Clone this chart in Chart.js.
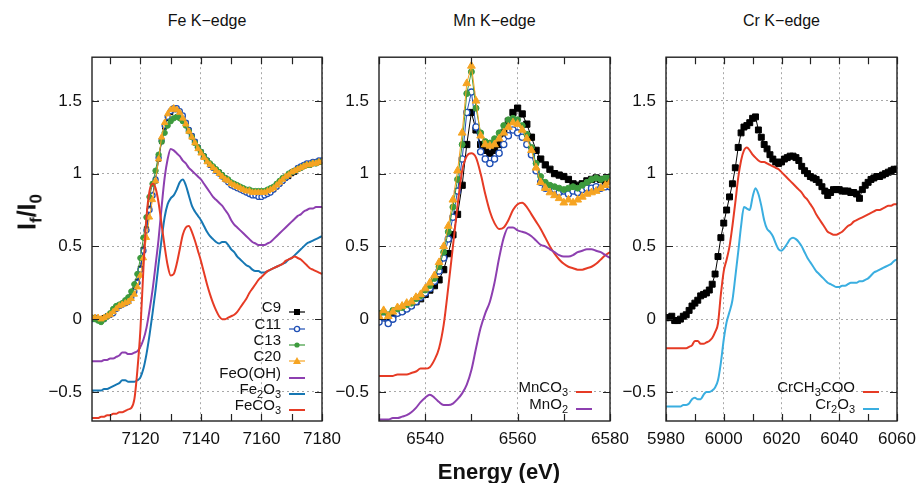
<!DOCTYPE html>
<html>
<head>
<meta charset="utf-8">
<script src="https://cdn.jsdelivr.net/npm/chart.js@4.4.1/dist/chart.umd.min.js"></script>
<style>
body { margin: 0; background: #fff; width: 918px; height: 483px; position: relative; overflow: hidden;
       font-family: "Liberation Sans", Arial, sans-serif; color: #111; }
canvas { position: absolute; }
.title { position: absolute; top: 11px; font-size: 16px; line-height: 20px; text-align: center; white-space: nowrap; }
.legtext { position: absolute; width: 160px; text-align: right; font-size: 15px; line-height: 16px; white-space: nowrap; }
.legtext sub { font-size: 11px; vertical-align: -4px; line-height: 0; }
.legsym { position: absolute; }
#ytitle { position: absolute; left: 27px; top: 212px; transform: translate(-50%, -50%) rotate(-90deg);
          font-weight: bold; font-size: 25px; white-space: nowrap; }
#ytitle sub { font-size: 17px; vertical-align: -6px; line-height: 0; }
#xtitle { position: absolute; left: 0; width: 998px; top: 459px; text-align: center; font-weight: bold; font-size: 22px; line-height: 26px; }
</style>
</head>
<body>
<canvas id="feChart"></canvas>
<canvas id="mnChart"></canvas>
<canvas id="crChart"></canvas>
<div id="ytitle">I<sub>f</sub>/I<sub>0</sub></div>
<div id="xtitle">Energy (eV)</div>
<script>
// ---- data (normalised fluorescence If/I0 vs energy, 1 eV steps) ----
const yTicks = [-0.5, 0, 0.5, 1, 1.5];
const feXTicks = [7120, 7140, 7160, 7180];
const mnXTicks = [6540, 6560, 6580];
const crXTicks = [5980, 6000, 6020, 6040, 6060];

function range(a, b) { const r = []; for (let e = a; e <= b; e++) r.push(e); return r; }
const feEnergy = range(7104, 7180);
const mnEnergy = range(6530, 6580);
const crEnergy = range(5980, 6060);

// Fe K-edge
const feC9 = [
  0.01, 0.01, 0.00, 0.00, 0.01, 0.02, 0.03, 0.05, 0.08, 0.09,
  0.10, 0.11, 0.13, 0.16, 0.20, 0.26, 0.35, 0.48, 0.62, 0.76,
  0.85, 0.95, 1.10, 1.22, 1.32, 1.38, 1.42, 1.44, 1.44, 1.42,
  1.39, 1.35, 1.30, 1.26, 1.22, 1.18, 1.15, 1.12, 1.09, 1.06,
  1.04, 1.02, 1.01, 0.99, 0.97, 0.95, 0.93, 0.92, 0.91, 0.90,
  0.89, 0.88, 0.87, 0.87, 0.86, 0.86, 0.86, 0.86, 0.87, 0.88,
  0.89, 0.91, 0.93, 0.95, 0.97, 0.98, 1.00, 1.01, 1.03, 1.04,
  1.05, 1.06, 1.06, 1.07, 1.07, 1.08, 1.08];
const feC11 = [
  0.00, 0.01, 0.00, -0.01, 0.00, 0.02, 0.03, 0.04, 0.07, 0.09,
  0.10, 0.11, 0.12, 0.15, 0.19, 0.25, 0.34, 0.47, 0.61, 0.75,
  0.85, 0.96, 1.11, 1.23, 1.33, 1.39, 1.43, 1.45, 1.45, 1.43,
  1.40, 1.35, 1.30, 1.26, 1.22, 1.18, 1.15, 1.12, 1.09, 1.06,
  1.04, 1.02, 1.00, 0.98, 0.96, 0.94, 0.92, 0.91, 0.90, 0.89,
  0.88, 0.87, 0.86, 0.85, 0.85, 0.84, 0.84, 0.85, 0.86, 0.87,
  0.89, 0.91, 0.93, 0.95, 0.97, 0.99, 1.01, 1.02, 1.04, 1.05,
  1.06, 1.07, 1.07, 1.08, 1.08, 1.09, 1.09];
const feC13 = [
  0.01, 0.00, -0.01, -0.02, 0.00, 0.02, 0.04, 0.07, 0.09, 0.10,
  0.11, 0.13, 0.15, 0.19, 0.24, 0.31, 0.42, 0.56, 0.70, 0.84,
  0.93, 1.02, 1.13, 1.22, 1.28, 1.33, 1.36, 1.38, 1.39, 1.38,
  1.36, 1.33, 1.29, 1.25, 1.21, 1.18, 1.15, 1.12, 1.09, 1.07,
  1.05, 1.03, 1.01, 0.99, 0.97, 0.96, 0.94, 0.93, 0.92, 0.91,
  0.90, 0.89, 0.89, 0.88, 0.88, 0.88, 0.88, 0.88, 0.89, 0.90,
  0.91, 0.93, 0.95, 0.97, 0.98, 1.00, 1.01, 1.02, 1.03, 1.04,
  1.05, 1.06, 1.06, 1.07, 1.07, 1.08, 1.08];
const feC20 = [
  0.01, 0.01, 0.01, 0.00, 0.01, 0.02, 0.03, 0.05, 0.07, 0.09,
  0.10, 0.11, 0.12, 0.14, 0.17, 0.22, 0.30, 0.42, 0.56, 0.70,
  0.82, 0.95, 1.10, 1.25, 1.35, 1.41, 1.44, 1.45, 1.44, 1.42,
  1.38, 1.34, 1.29, 1.25, 1.21, 1.17, 1.14, 1.11, 1.08, 1.06,
  1.04, 1.02, 1.00, 0.98, 0.96, 0.95, 0.93, 0.92, 0.91, 0.90,
  0.89, 0.88, 0.88, 0.87, 0.87, 0.87, 0.87, 0.87, 0.88, 0.89,
  0.90, 0.92, 0.94, 0.96, 0.98, 0.99, 1.01, 1.02, 1.03, 1.04,
  1.05, 1.06, 1.06, 1.07, 1.07, 1.08, 1.08];
const feFeOOH = [
  -0.29, -0.29, -0.29, -0.29, -0.28, -0.28, -0.27, -0.27, -0.26, -0.25,
  -0.23, -0.23, -0.24, -0.24, -0.23, -0.22, -0.19, -0.14, -0.06, 0.06,
  0.20, 0.37, 0.55, 0.77, 0.97, 1.10, 1.17, 1.16, 1.14, 1.12,
  1.09, 1.07, 1.04, 1.02, 1.00, 0.98, 0.96, 0.93, 0.90, 0.87,
  0.84, 0.82, 0.80, 0.78, 0.75, 0.72, 0.68, 0.65, 0.63, 0.61,
  0.59, 0.57, 0.55, 0.53, 0.52, 0.51, 0.51, 0.51, 0.52, 0.53,
  0.55, 0.57, 0.59, 0.61, 0.63, 0.65, 0.67, 0.69, 0.71, 0.72,
  0.74, 0.75, 0.76, 0.76, 0.77, 0.77, 0.77];
const feFe2O3 = [
  -0.49, -0.49, -0.49, -0.49, -0.48, -0.48, -0.47, -0.46, -0.45, -0.44,
  -0.42, -0.42, -0.43, -0.43, -0.43, -0.42, -0.40, -0.34, -0.24, -0.11,
  0.04, 0.20, 0.38, 0.55, 0.70, 0.79, 0.83, 0.85, 0.89, 0.94,
  0.96, 0.92, 0.85, 0.78, 0.74, 0.71, 0.68, 0.64, 0.60, 0.57,
  0.55, 0.53, 0.52, 0.53, 0.53, 0.51, 0.48, 0.46, 0.43, 0.41,
  0.39, 0.37, 0.36, 0.34, 0.33, 0.33, 0.32, 0.32, 0.33, 0.34,
  0.35, 0.36, 0.37, 0.38, 0.39, 0.41, 0.42, 0.44, 0.46, 0.48,
  0.50, 0.52, 0.53, 0.54, 0.55, 0.56, 0.57];
const feFeCO3 = [
  -0.68, -0.68, -0.68, -0.67, -0.67, -0.66, -0.66, -0.65, -0.65, -0.64,
  -0.64, -0.63, -0.62, -0.61, -0.55, -0.35, -0.07, 0.35, 0.70, 0.88,
  0.93, 0.90, 0.80, 0.65, 0.50, 0.37, 0.30, 0.31, 0.38, 0.48,
  0.58, 0.63, 0.64, 0.60, 0.54, 0.47, 0.40, 0.32, 0.24, 0.17,
  0.11, 0.06, 0.02, 0.00, 0.00, 0.01, 0.02, 0.03, 0.05, 0.08,
  0.11, 0.14, 0.18, 0.21, 0.24, 0.27, 0.29, 0.31, 0.33, 0.34,
  0.35, 0.36, 0.37, 0.38, 0.40, 0.41, 0.42, 0.43, 0.42, 0.41,
  0.39, 0.37, 0.35, 0.34, 0.33, 0.32, 0.31];

// Mn K-edge
const mnC9 = [
  0.02, 0.01, 0.00, 0.03, 0.05, 0.06, 0.08, 0.10, 0.12, 0.14,
  0.17, 0.20, 0.23, 0.27, 0.34, 0.45, 0.58, 0.72, 0.92, 1.20,
  1.42, 1.30, 1.20, 1.16, 1.14, 1.16, 1.20, 1.28, 1.36, 1.42,
  1.45, 1.41, 1.34, 1.25, 1.16, 1.10, 1.06, 1.03, 1.00, 0.99,
  0.98, 0.96, 0.93, 0.92, 0.93, 0.95, 0.96, 0.97, 0.96, 0.95,
  0.94];
const mnC11 = [
  -0.02, 0.01, -0.03, 0.00, 0.04, 0.05, 0.07, 0.09, 0.12, 0.15,
  0.18, 0.21, 0.26, 0.33, 0.42, 0.55, 0.70, 0.88, 1.10, 1.42,
  1.56, 1.32, 1.15, 1.10, 1.07, 1.10, 1.14, 1.20, 1.26, 1.30,
  1.28, 1.25, 1.20, 1.13, 1.02, 0.94, 0.90, 0.90, 0.89, 0.87,
  0.88, 0.86, 0.88, 0.87, 0.89, 0.90, 0.90, 0.91, 0.90, 0.91,
  0.91];
const mnC13 = [
  0.04, 0.05, 0.03, 0.06, 0.07, 0.08, 0.10, 0.11, 0.14, 0.16,
  0.20, 0.23, 0.28, 0.36, 0.46, 0.60, 0.77, 0.96, 1.20, 1.55,
  1.70, 1.45, 1.28, 1.22, 1.21, 1.24, 1.28, 1.33, 1.37, 1.38,
  1.37, 1.33, 1.27, 1.18, 1.07, 0.98, 0.94, 0.92, 0.91, 0.90,
  0.89, 0.90, 0.91, 0.90, 0.92, 0.94, 0.96, 0.97, 0.96, 0.97,
  0.98];
const mnC20 = [
  0.02, 0.06, 0.02, 0.05, 0.08, 0.09, 0.11, 0.12, 0.15, 0.17,
  0.21, 0.25, 0.30, 0.39, 0.50, 0.64, 0.82, 1.02, 1.28, 1.62,
  1.74, 1.50, 1.26, 1.20, 1.19, 1.20, 1.24, 1.28, 1.32, 1.35,
  1.34, 1.30, 1.24, 1.16, 1.04, 0.94, 0.90, 0.87, 0.85, 0.83,
  0.80, 0.82, 0.80, 0.82, 0.84, 0.86, 0.87, 0.88, 0.90, 0.92,
  0.94];
const mnMnCO3 = [
  -0.39, -0.39, -0.39, -0.39, -0.38, -0.38, -0.38, -0.37, -0.36, -0.34,
  -0.34, -0.33, -0.28, -0.20, -0.04, 0.22, 0.50, 0.78, 1.02, 1.12,
  1.14, 1.11, 1.00, 0.86, 0.74, 0.66, 0.62, 0.63, 0.68, 0.75,
  0.79, 0.80, 0.77, 0.72, 0.67, 0.62, 0.56, 0.50, 0.45, 0.41,
  0.38, 0.36, 0.35, 0.34, 0.34, 0.35, 0.36, 0.38, 0.41, 0.44,
  0.46];
const mnMnO2 = [
  -0.69, -0.69, -0.69, -0.68, -0.68, -0.67, -0.66, -0.64, -0.61, -0.57,
  -0.54, -0.52, -0.54, -0.57, -0.59, -0.59, -0.58, -0.55, -0.51, -0.45,
  -0.35, -0.20, -0.06, 0.04, 0.12, 0.25, 0.42, 0.56, 0.63, 0.63,
  0.61, 0.60, 0.59, 0.57, 0.54, 0.51, 0.50, 0.48, 0.46, 0.44,
  0.43, 0.43, 0.44, 0.46, 0.47, 0.48, 0.48, 0.47, 0.46, 0.44,
  0.42];

// Cr K-edge
const crC9 = [
  0.01, 0.01, 0.02, -0.01, -0.01, 0.00, 0.02, 0.03, 0.06, 0.09,
  0.11, 0.13, 0.16, 0.17, 0.18, 0.20, 0.24, 0.31, 0.43, 0.56,
  0.66, 0.75, 0.84, 0.93, 1.04, 1.18, 1.28, 1.32, 1.33, 1.35,
  1.38, 1.39, 1.30, 1.25, 1.20, 1.17, 1.13, 1.10, 1.08, 1.07,
  1.08, 1.10, 1.11, 1.12, 1.12, 1.11, 1.09, 1.05, 1.02, 1.00,
  0.98, 0.97, 0.96, 0.94, 0.91, 0.88, 0.85, 0.87, 0.89, 0.89,
  0.89, 0.88, 0.88, 0.88, 0.87, 0.87, 0.86, 0.83, 0.89, 0.92,
  0.94, 0.96, 0.97, 0.98, 0.98, 0.99, 1.00, 1.01, 1.02, 1.03,
  1.03];
const crAcetate = [
  -0.20, -0.20, -0.20, -0.20, -0.20, -0.20, -0.20, -0.20, -0.19, -0.18,
  -0.15, -0.15, -0.17, -0.17, -0.16, -0.15, -0.13, -0.09, -0.03, 0.17,
  0.33, 0.41, 0.50, 0.64, 0.80, 0.97, 1.09, 1.16, 1.18, 1.16,
  1.13, 1.11, 1.09, 1.08, 1.08, 1.07, 1.06, 1.05, 1.04, 1.03,
  1.01, 0.99, 0.97, 0.95, 0.93, 0.91, 0.89, 0.87, 0.84, 0.82,
  0.79, 0.76, 0.72, 0.69, 0.66, 0.63, 0.60, 0.59, 0.58, 0.58,
  0.59, 0.60, 0.62, 0.64, 0.65, 0.67, 0.68, 0.69, 0.70, 0.71,
  0.72, 0.73, 0.74, 0.75, 0.75, 0.76, 0.77, 0.78, 0.78, 0.79,
  0.79];
const crCr2O3 = [
  -0.60, -0.60, -0.60, -0.60, -0.60, -0.60, -0.59, -0.59, -0.58, -0.55,
  -0.54, -0.55, -0.55, -0.52, -0.50, -0.50, -0.49, -0.47, -0.42, -0.30,
  -0.14, -0.02, 0.05, 0.13, 0.29, 0.46, 0.64, 0.77, 0.76, 0.75,
  0.84, 0.90, 0.86, 0.78, 0.68, 0.62, 0.60, 0.57, 0.52, 0.48,
  0.47, 0.49, 0.52, 0.55, 0.56, 0.55, 0.53, 0.50, 0.46, 0.42,
  0.39, 0.36, 0.33, 0.31, 0.29, 0.27, 0.25, 0.24, 0.23, 0.22,
  0.22, 0.23, 0.23, 0.24, 0.25, 0.25, 0.25, 0.26, 0.26, 0.27,
  0.28, 0.30, 0.32, 0.33, 0.34, 0.35, 0.36, 0.37, 0.38, 0.40,
  0.41];

const colC9 = '#000000', colC11 = '#1f4fb5', colC13 = '#3d9b3d', colC20 = '#f6a422';
const colPurple = '#8d3fb0', colFe2O3 = '#1677b3', colRed = '#e63b25', colCr2O3 = '#3aaee0';

const FONT = '"Liberation Sans", Arial, sans-serif';

// ---- helpers ----
function pts(energy, vals) {
    return energy.map((e, i) => ({ x: e, y: vals[i] }));
}

function sampleSet(label, energy, vals, color, style, radius, filled, order) {
    return {
        label: label,
        data: pts(energy, vals),
        borderColor: color,
        borderWidth: 1,
        pointStyle: style,
        pointRadius: radius,
        pointBorderColor: color,
        pointBorderWidth: filled ? 1 : 1.3,
        pointBackgroundColor: filled ? color : '#ffffff',
        order: order
    };
}

function refSet(label, energy, vals, color, order) {
    return {
        label: label,
        data: pts(energy, vals),
        borderColor: color,
        borderWidth: 2,
        pointRadius: 0,
        cubicInterpolationMode: 'monotone',
        order: order
    };
}

function fmtTick(v) {
    return v < 0 ? '\u2212' + Math.abs(v) : String(v);
}

// inward tick marks + closed frame, gnuplot style
const framePlugin = {
    id: 'frame',
    afterDatasetsDraw(chart, args, opts) {
        const { ctx, chartArea: a, scales: { x, y } } = chart;
        ctx.save();
        ctx.strokeStyle = '#222';
        ctx.lineWidth = 1.2;
        ctx.beginPath();
        for (let v = Math.ceil(x.min / 10) * 10; v <= x.max; v += 10) {
            const px = Math.round(x.getPixelForValue(v)) + 0.5;
            ctx.moveTo(px, a.bottom); ctx.lineTo(px, a.bottom - 7);
            ctx.moveTo(px, a.top); ctx.lineTo(px, a.top + 7);
        }
        for (const v of yTicks) {
            const py = Math.round(y.getPixelForValue(v)) + 0.5;
            ctx.moveTo(a.left, py); ctx.lineTo(a.left + 7, py);
            ctx.moveTo(a.right, py); ctx.lineTo(a.right - 7, py);
        }
        ctx.stroke();
        ctx.lineWidth = 1.4;
        ctx.strokeRect(a.left, a.top, a.right - a.left, a.bottom - a.top);
        ctx.restore();
    }
};

const PLOT_TOP = 47, PLOT_BOTTOM = 421, YAXIS_W = 60, XAXIS_H = 40, PAD_TOP = 10, PAD_RIGHT = 20;

function makePanel(canvasId, plotLeft, plotWidth, xMin, xMax, xTicks, datasets) {
    const cv = document.getElementById(canvasId);
    cv.width = YAXIS_W + plotWidth + PAD_RIGHT;
    cv.height = PAD_TOP + (PLOT_BOTTOM - PLOT_TOP) + XAXIS_H;
    cv.style.left = (plotLeft - YAXIS_W) + 'px';
    cv.style.top = (PLOT_TOP - PAD_TOP) + 'px';

    return new Chart(cv, {
        type: 'line',
        data: { datasets: datasets },
        options: {
            responsive: false,
            animation: false,
            devicePixelRatio: 1,
            layout: { padding: { top: PAD_TOP, right: PAD_RIGHT, left: 0, bottom: 0 } },
            plugins: { legend: { display: false }, tooltip: { enabled: false }, title: { display: false } },
            scales: {
                x: {
                    type: 'linear', min: xMin, max: xMax,
                    afterBuildTicks: s => { s.ticks = xTicks.map(v => ({ value: v })); },
                    afterFit: s => { s.height = XAXIS_H; s.paddingLeft = 0; s.paddingRight = 0; },
                    grid: { color: '#a8a8a8', lineWidth: 1, drawTicks: false },
                    border: { display: false, dash: [2, 3] },
                    ticks: { padding: 8, color: '#111', maxRotation: 0, font: { family: FONT, size: 17 }, callback: v => String(v) }
                },
                y: {
                    type: 'linear', min: -0.7, max: 1.8,
                    afterBuildTicks: s => { s.ticks = yTicks.map(v => ({ value: v })); },
                    afterFit: s => { s.width = YAXIS_W; },
                    grid: { color: '#a8a8a8', lineWidth: 1, drawTicks: false },
                    border: { display: false, dash: [2, 3] },
                    ticks: { padding: 10, color: '#111', font: { family: FONT, size: 17 }, callback: v => fmtTick(v) }
                }
            }
        },
        plugins: [framePlugin]
    });
}

// ---- panels (later datasets drawn on top, like gnuplot) ----
makePanel('feChart', 92, 230, 7104, 7180, feXTicks, [
    sampleSet('C9', feEnergy, feC9, colC9, 'rect', 3, true, 0),
    sampleSet('C11', feEnergy, feC11, colC11, 'circle', 2.5, false, -1),
    sampleSet('C13', feEnergy, feC13, colC13, 'circle', 2.7, true, -2),
    sampleSet('C20', feEnergy, feC20, colC20, 'triangle', 3.6, true, -3),
    refSet('FeO(OH)', feEnergy, feFeOOH, colPurple, -4),
    refSet('Fe2O3', feEnergy, feFe2O3, colFe2O3, -5),
    refSet('FeCO3', feEnergy, feFeCO3, colRed, -6)
]);

makePanel('mnChart', 379, 231, 6530, 6580, mnXTicks, [
    sampleSet('C9', mnEnergy, mnC9, colC9, 'rect', 4.4, true, 0),
    sampleSet('C11', mnEnergy, mnC11, colC11, 'circle', 3.1, false, -1),
    sampleSet('C13', mnEnergy, mnC13, colC13, 'circle', 3, true, -2),
    sampleSet('C20', mnEnergy, mnC20, colC20, 'triangle', 4.5, true, -3),
    refSet('MnCO3', mnEnergy, mnMnCO3, colRed, -4),
    refSet('MnO2', mnEnergy, mnMnO2, colPurple, -5)
]);

makePanel('crChart', 666, 231, 5980, 6060, crXTicks, [
    sampleSet('C9', crEnergy, crC9, colC9, 'rect', 4.2, true, 0),
    refSet('CrCH3COO', crEnergy, crAcetate, colRed, -1),
    refSet('Cr2O3', crEnergy, crCr2O3, colCr2O3, -2)
]);

// ---- titles & legends (HTML so subscripts stay real text) ----
function addTitle(text, plotLeft, plotWidth) {
    const d = document.createElement('div');
    d.className = 'title';
    d.style.left = plotLeft + 'px';
    d.style.width = plotWidth + 'px';
    d.textContent = text;
    document.body.appendChild(d);
}
addTitle('Fe K\u2212edge', 92, 230);
addTitle('Mn K\u2212edge', 379, 231);
addTitle('Cr K\u2212edge', 666, 231);

function symbol(color, marker, lineWidth) {
    let m = '';
    if (marker === 'rect') m = `<rect x="6" y="2" width="6" height="6" fill="${color}"/>`;
    else if (marker === 'open') m = `<circle cx="9" cy="5" r="2.6" fill="#fff" stroke="${color}" stroke-width="1.3"/>`;
    else if (marker === 'dot') m = `<circle cx="9" cy="5" r="2.6" fill="${color}"/>`;
    else if (marker === 'tri') m = `<polygon points="9,1 13,8 5,8" fill="${color}"/>`;
    return `<svg width="18" height="10"><line x1="1" y1="5" x2="17" y2="5" stroke="${color}" stroke-width="${lineWidth}"/>${m}</svg>`;
}

function addLegend(textRight, rowYs, entries) {
    entries.forEach((en, i) => {
        const t = document.createElement('div');
        t.className = 'legtext';
        t.style.left = (textRight - 160) + 'px';
        t.style.top = (rowYs[i] - 9) + 'px';
        t.innerHTML = en[0];
        document.body.appendChild(t);
        const s = document.createElement('div');
        s.className = 'legsym';
        s.style.left = (textRight + 7) + 'px';
        s.style.top = (rowYs[i] - 5) + 'px';
        s.innerHTML = symbol(en[1], en[2], en[3]);
        document.body.appendChild(s);
    });
}

addLegend(281, [308, 324.5, 341, 357, 373.5, 390, 406], [
    ['C9', colC9, 'rect', 1.2],
    ['C11', colC11, 'open', 1.2],
    ['C13', colC13, 'dot', 1.2],
    ['C20', colC20, 'tri', 1.2],
    ['FeO(OH)', colPurple, '', 2],
    ['Fe<sub>2</sub>O<sub>3</sub>', colFe2O3, '', 2],
    ['FeCO<sub>3</sub>', colRed, '', 2]
]);
addLegend(568, [388, 405], [
    ['MnCO<sub>3</sub>', colRed, '', 2],
    ['MnO<sub>2</sub>', colPurple, '', 2]
]);
addLegend(855, [388, 405], [
    ['CrCH<sub>3</sub>COO', colRed, '', 2],
    ['Cr<sub>2</sub>O<sub>3</sub>', colCr2O3, '', 2]
]);
</script>
</body>
</html>
